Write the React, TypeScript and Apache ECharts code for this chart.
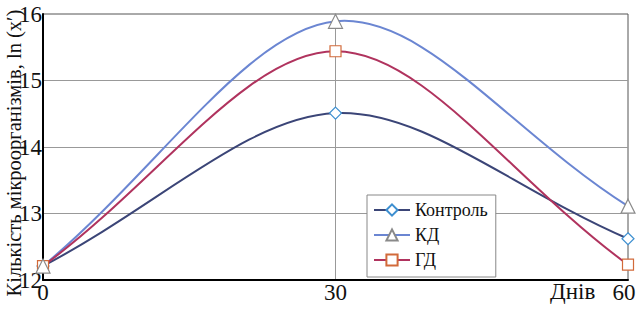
import React, { useEffect, useRef } from "react";
import * as echarts from "echarts";

const days = [0, 30, 60];
const kontrol = [12.21, 14.51, 12.62];
const kd = [12.21, 15.89, 13.11];
const gd = [12.21, 15.44, 12.23];
const seriesNames = ["Контроль", "КД", "ГД"];
const yTicks = { min: 12, max: 16, interval: 1 };
const yTitle = "Кількість мікроорганізмів, ln (x′)";
const xTitle = "Днів";

const FONT = "'Liberation Serif', 'Times New Roman', serif";

const KE = 0.4;
const KI = 0.15;

export default function App() {
  const ref = useRef<HTMLDivElement>(null);
  useEffect(() => {
    document.body.style.margin = "0";
    const chart = echarts.init(ref.current!, null, { renderer: "svg" });

    const curve = (name: string, vals: number[], color: string) => ({
      name: name + "-curve",
      type: "custom",
      coordinateSystem: "cartesian2d",
      data: days.map((d, i) => [d, vals[i]]),
      z: 2,
      silent: true,
      renderItem: (params: any, api: any) => {
        const i = params.dataIndex;
        const n = days.length;
        if (i >= n - 1) return { type: "group", children: [] };
        const P = days.map((d, j) => api.coord([d, vals[j]]));
        const p0 = P[i];
        const p1 = P[i + 1];
        const prev = i > 0 ? P[i - 1] : null;
        const next = i + 2 < n ? P[i + 2] : null;
        let c1: number[];
        let c2: number[];
        if (prev) {
          c1 = [p0[0] + KI * (p1[0] - prev[0]), p0[1] + KI * (p1[1] - prev[1])];
        } else {
          c1 = [p0[0] + KE * (p1[0] - p0[0]), p0[1] + KE * (p1[1] - p0[1])];
        }
        if (next) {
          c2 = [p1[0] - KI * (next[0] - p0[0]), p1[1] - KI * (next[1] - p0[1])];
        } else {
          c2 = [p1[0] - KE * (p1[0] - p0[0]), p1[1] - KE * (p1[1] - p0[1])];
        }
        return {
          type: "bezierCurve",
          shape: {
            x1: p0[0], y1: p0[1], x2: p1[0], y2: p1[1],
            cpx1: c1[0], cpy1: c1[1], cpx2: c2[0], cpy2: c2[1],
          },
          style: { stroke: color, lineWidth: 2, fill: null },
        };
      },
    });

    const marks = (name: string, vals: number[], line: string, border: string, symbol: string, size: number, z: number) => ({
      name,
      type: "line",
      data: days.map((d, i) => [d, vals[i]]),
      symbol,
      symbolSize: size,
      showAllSymbol: true,
      lineStyle: { color: line, width: 2, opacity: 0 },
      itemStyle: { color: "#fff", borderColor: border, borderWidth: 1.2 },
      z,
    });

    const lineColors = ["#3b4577", "#6b86d2", "#b0335e"];
    const borderColors = ["#3d8fd0", "#8a8a8a", "#d26a3a"];

    chart.setOption({
      animation: false,
      textStyle: { fontFamily: FONT },
      grid: {
        left: 43, right: 9, top: 14, bottom: 29,
        outerBoundsMode: "none",
        containLabel: false,
        show: true, borderColor: "#555", borderWidth: 1,
      },
      legend: {
        left: 367,
        top: 195,
        orient: "vertical",
        backgroundColor: "#fff",
        borderColor: "#888",
        borderWidth: 1,
        borderRadius: 0,
        padding: [6, 8, 8, 6],
        itemGap: 7,
        itemWidth: 36,
        itemHeight: 14,
        textStyle: { fontFamily: FONT, fontSize: 18, color: "#111" },
        data: seriesNames.map((n, i) => ({
          name: n,
          lineStyle: { color: lineColors[i], width: 2, opacity: 1 },
        })),
        z: 10,
      },
      xAxis: {
        type: "value",
        min: days[0],
        max: days[2],
        interval: 30,
        axisLine: { show: true, lineStyle: { color: "#000", width: 2 } },
        axisTick: { show: false },
        splitLine: { show: true, showMaxLine: false, lineStyle: { color: "#999", width: 1 } },
        axisLabel: {
          fontFamily: FONT, fontSize: 23, color: "#111", margin: 1,
          formatter: (v: number) => (v === days[days.length - 1] ? `{r|${v}}` : `${v}`),
          rich: { r: { fontFamily: FONT, fontSize: 23, color: "#111", padding: [0, 8, 0, 0] } },
        },
      },
      yAxis: {
        type: "value",
        min: yTicks.min,
        max: yTicks.max,
        interval: yTicks.interval,
        axisLine: { show: true, lineStyle: { color: "#000", width: 2 } },
        axisTick: { show: false },
        splitLine: { show: true, showMaxLine: false, lineStyle: { color: "#999", width: 1 } },
        axisLabel: { fontFamily: FONT, fontSize: 23, color: "#111", margin: 1 },
      },
      graphic: [
        {
          type: "text",
          left: 550,
          top: 280,
          style: { text: xTitle, font: `23px ${FONT}`, fill: "#111" },
        },
        {
          type: "text",
          x: 14,
          y: 153,
          rotation: Math.PI / 2,
          z: 0,
          style: {
            text: yTitle,
            font: `20.5px ${FONT}`,
            fill: "#111",
            align: "center",
            verticalAlign: "middle",
          },
        },
      ],
      series: [
        curve(seriesNames[0], kontrol, lineColors[0]),
        curve(seriesNames[1], kd, lineColors[1]),
        curve(seriesNames[2], gd, lineColors[2]),
        marks(seriesNames[0], kontrol, lineColors[0], borderColors[0], "diamond", 12, 3),
        marks(seriesNames[1], kd, lineColors[1], borderColors[1], "triangle", 14, 5),
        marks(seriesNames[2], gd, lineColors[2], borderColors[2], "rect", 11, 4),
      ],
    });
    return () => chart.dispose();
  }, []);
  return <div ref={ref} style={{ width: 637, height: 309 }} />;
}
